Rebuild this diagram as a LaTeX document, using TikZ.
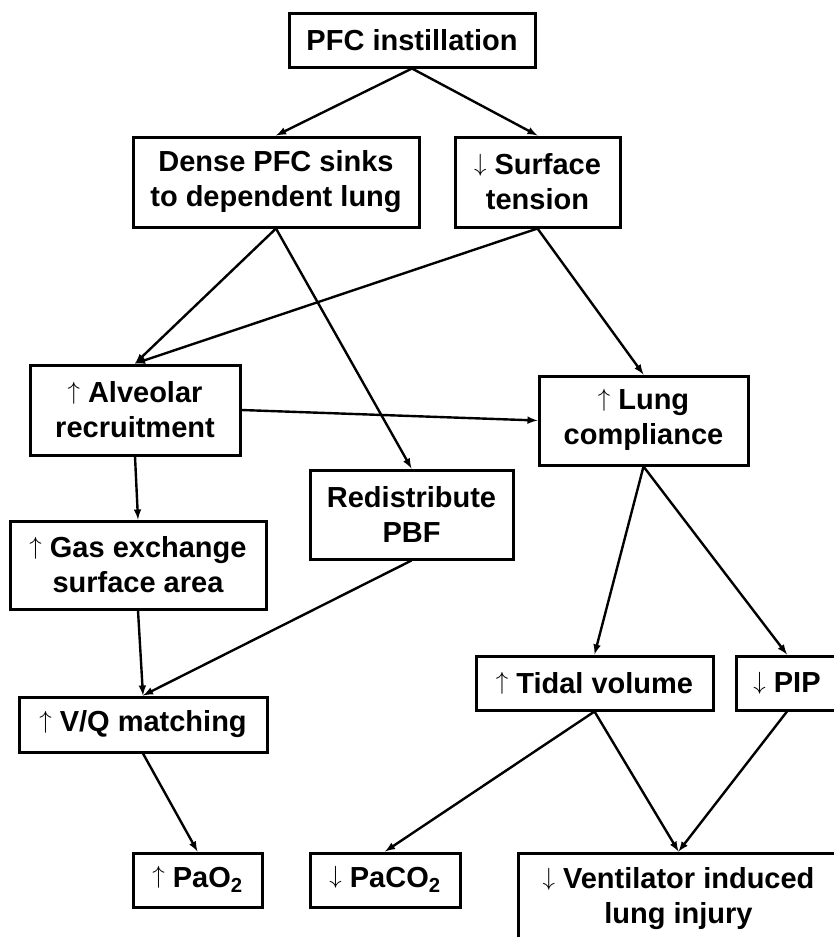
\documentclass[tikz,border=0pt]{standalone}
\usepackage{fontspec}
\setmainfont{Liberation Sans}
\newcommand\incr{\smash{\raisebox{3.5pt}{$\uparrow$}}}
\newcommand\decr{\smash{\raisebox{3.5pt}{$\downarrow$}}}
\begin{document}
\begin{tikzpicture}[>=latex,x=1pt,y=-1pt,
  box/.style={draw,line width=3pt,align=center,inner sep=0pt,
    font=\fontsize{29}{35}\selectfont\bfseries},
  link/.style={->,line width=2.4pt}]
\useasboundingbox (0,0) rectangle (834,937);
\node (pfc) at (412,40) [box,minimum width=246pt,minimum height=54pt] {PFC instillation};
\node (dense) at (276,182) [box,minimum width=286pt,minimum height=90pt] {Dense PFC sinks\\to dependent lung};
\node (surf) at (537.5,182) [box,minimum width=165pt,minimum height=90pt] {\decr{} Surface\\tension};
\node (alv) at (135,410) [box,minimum width=210pt,minimum height=90pt] {\incr{} Alveolar\\recruitment};
\node (lung) at (643.5,420.5) [box,minimum width=209pt,minimum height=89pt] {\incr{} Lung\\compliance};
\node (redis) at (411.5,514.5) [box,minimum width=203pt,minimum height=89pt] {Redistribute\\PBF};
\node (gas) at (138,565) [box,minimum width=256pt,minimum height=88pt] {\incr{} Gas exchange\\surface area};
\node (vq) at (143,724.5) [box,minimum width=248pt,minimum height=55pt] {\incr{} V/Q matching};
\node (tidal) at (594.5,683) [box,minimum width=237pt,minimum height=54pt] {\incr{} Tidal volume};
\node (pip) at (787,683) [box,minimum width=102pt,minimum height=54pt] {\decr{} PIP};
\node (pao) at (197.5,880) [box,minimum width=129pt,minimum height=54pt] {\incr{} PaO\textsubscript{2}};
\node (paco) at (385,880) [box,minimum width=150pt,minimum height=54pt] {\decr{} PaCO\textsubscript{2}};
\node (vili) at (678.5,899) [box,minimum width=321pt,minimum height=92pt] {\decr{} Ventilator induced\\lung injury};
% top
\draw[link] (pfc.south) -- (dense.north);
\draw[link] (pfc.south) -- (surf.north);
\draw[link] (dense.south) -- (alv.north);
\draw[link] (surf.south) -- (alv.north);
\draw[link] (dense.south) -- (redis.north);
\draw[link] (surf.south) -- (lung.north);
\draw[link] (alv.east) -- (lung.west);
% left
\draw[link] (alv.south) -- (gas.north);
\draw[link] (gas.south) -- (vq.north);
\draw[link] (redis.south) -- (vq.north);
\draw[link] (vq.south) -- (pao.north);
% right
\draw[link] (lung.south) -- (tidal.north);
\draw[link] (lung.south) -- (pip.north);
\draw[link] (tidal.south) -- (paco.north);
\draw[link] (tidal.south) -- (vili.north);
\draw[link] (pip.south) -- (vili.north);
\end{tikzpicture}
\end{document}
